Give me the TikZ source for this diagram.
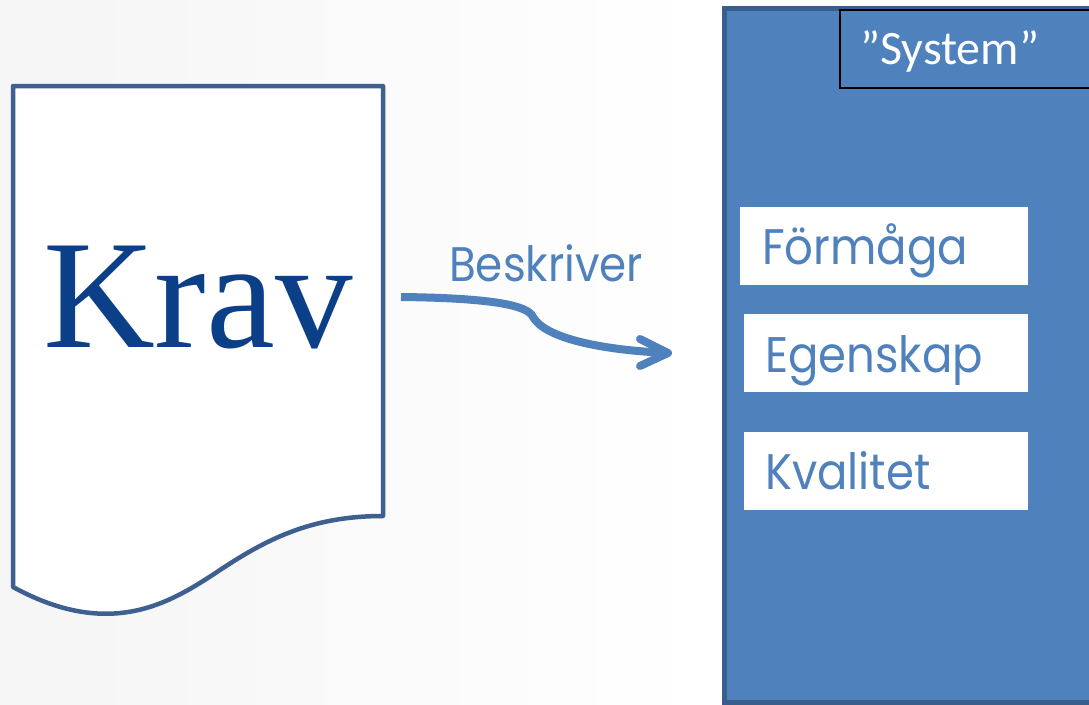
\documentclass[tikz,border=0pt]{standalone}
\usepackage{fontspec}
\setmainfont{Liberation Serif}
\newfontfamily\geofont[FakeStretch=0.9]{Poppins}
\newfontfamily\calfont{Carlito}
\definecolor{accent}{HTML}{4F81BD}
\definecolor{accentdark}{HTML}{3A5E8C}
\definecolor{docline}{HTML}{3D6090}
\definecolor{kravblue}{HTML}{0B3F87}
\begin{document}
\begin{tikzpicture}[x=1pt,y=-1pt,
  whitebox/.style={fill=white, draw=none},
  itemtext/.style={anchor=base west, font=\geofont\fontsize{50}{50}\selectfont, text=accent, inner sep=0pt}]
\useasboundingbox (0,0) rectangle (1089,704);
\shade[left color=black!4, right color=white] (0,0) rectangle (700,704);
% document shape
\draw[docline, line width=4.5pt, fill=white, line join=round]
  (13,86) -- (383,86) -- (383,516)
  .. controls (310,516) and (265,540) .. (217,572)
  .. controls (170,603) and (110,640) .. (13,587) -- cycle;
\node[anchor=base, inner sep=0pt, text=kravblue, font=\fontsize{155}{155}\selectfont] (krav) at (198,347) {Krav};
% system box
\draw[accentdark, fill=accent, line width=5pt] (724,8) rectangle (1110,702);
\node[draw=black, line width=2pt, minimum width=270pt, minimum height=78pt, anchor=north west, inner sep=0pt] (sysbox) at (839,9) {};
\node[anchor=base west, inner sep=0pt, text=white, font=\calfont\fontsize{48}{48}\selectfont] (system) at (860,64) {”System”};
\fill[whitebox] (740,207) rectangle (1028,285);
\fill[whitebox] (744,314) rectangle (1028,392);
\fill[whitebox] (744,432) rectangle (1028,510);
\node[itemtext] (f) at (762,264) {Förmåga};
\node[itemtext] (e) at (765,372) {Egenskap};
\node[itemtext] (k) at (765,489) {Kvalitet};
% arrow
\node[anchor=base west, inner sep=0pt, text=accent, font=\geofont\fontsize{48.5}{48.5}\selectfont] (besk) at (449,281) {Beskriver};
\coordinate (as) at (401,297);
\coordinate (at) at (668,353);
\draw[accent, line width=8pt]
  (as) .. controls (490,298) and (528,305) .. (533,317)
  .. controls (545,338) and (600,350) .. (at);
\draw[accent, line width=8pt, line cap=round, line join=round]
  (640,339) -- (at) -- (640,366);
\end{tikzpicture}
\end{document}
